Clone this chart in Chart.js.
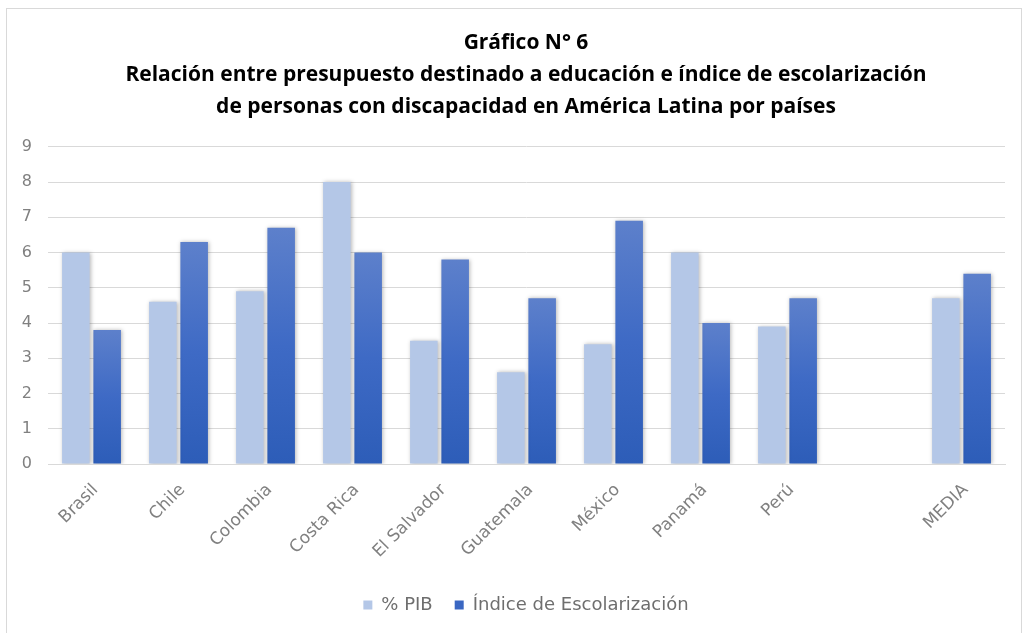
<!DOCTYPE html>
<html>
<head>
<meta charset="utf-8">
<script src="https://cdn.jsdelivr.net/npm/chart.js@4"></script>
<style>
  html, body { margin: 0; padding: 0; background: #fff; }
  #wrap { position: relative; width: 1036px; height: 633px; }
  #frame { position: absolute; left: 6px; top: 8px; width: 1016px; height: 640px; border: 1px solid #d9d9d9; box-sizing: border-box; }
  canvas { position: absolute; left: 0; top: 0; }
</style>
</head>
<body>
<div id="wrap">
  <div id="frame"></div>
  <canvas id="chart" width="1036" height="633"></canvas>
</div>
<script>
// Data
const countries = ['Brasil', 'Chile', 'Colombia', 'Costa Rica', 'El Salvador', 'Guatemala', 'México', 'Panamá', 'Perú', '', 'MEDIA'];
const pibValues = [6.0, 4.6, 4.9, 8.0, 3.5, 2.6, 3.4, 6.0, 3.9, null, 4.7];
const escolarizacionValues = [3.8, 6.3, 6.7, 6.0, 5.8, 4.7, 6.9, 4.0, 4.7, null, 5.4];
const titleLines = [
    'Gráfico N° 6',
    'Relación entre presupuesto destinado a educación e índice de escolarización',
    'de personas con discapacidad en América Latina por países'
];

const tickFont = { family: 'DejaVu Sans', size: 17 };
const tickColor = '#808080';

// gradient per bar, lighter at the top
function darkGradient(ctx) {
    const chart = ctx.chart;
    if (!chart.chartArea || ctx.raw == null) return '#3a67c2';
    const y = chart.scales.y;
    const top = y.getPixelForValue(ctx.raw);
    const bottom = y.getPixelForValue(0);
    const g = chart.ctx.createLinearGradient(0, top, 0, bottom);
    g.addColorStop(0, '#5d80cb');
    g.addColorStop(0.5, '#3e6ac5');
    g.addColorStop(1, '#2d5db8');
    return g;
}

// soft shadow behind the bars
const barShadow = {
    id: 'barShadow',
    beforeDatasetsDraw(chart) {
        const c = chart.ctx;
        c.save();
        c.shadowColor = 'rgba(0,0,0,0.28)';
        c.shadowBlur = 4;
        c.shadowOffsetX = 1;
        c.shadowOffsetY = 0;
    },
    afterDatasetsDraw(chart) {
        chart.ctx.restore();
    }
};

new Chart(document.getElementById('chart'), {
    type: 'bar',
    data: {
        labels: countries,
        datasets: [{
            label: '% PIB',
            data: pibValues,
            backgroundColor: '#b4c7e7',
            categoryPercentage: 0.72,
            barPercentage: 0.88
        }, {
            label: 'Índice de Escolarización',
            data: escolarizacionValues,
            backgroundColor: darkGradient,
            categoryPercentage: 0.72,
            barPercentage: 0.88
        }]
    },
    options: {
        responsive: false,
        animation: false,
        // title and legend are centred on the frame, a bit right of the canvas centre
        layout: { padding: { left: 16, right: 0, top: 0, bottom: 9 } },
        plugins: {
            title: {
                display: true,
                text: titleLines,
                color: '#000',
                font: { family: 'Open Sans', size: 21, weight: 'bold', lineHeight: 1.52 },
                padding: { top: 27, bottom: 24 }
            },
            legend: {
                position: 'bottom',
                labels: {
                    color: '#6e6e6e',
                    font: { family: 'DejaVu Sans', size: 18 },
                    boxWidth: 9,
                    boxHeight: 9,
                    padding: 22,
                    generateLabels(chart) {
                        const items = Chart.defaults.plugins.legend.labels.generateLabels(chart);
                        items[1].fillStyle = '#3a67c2';
                        items.forEach(i => { i.lineWidth = 0; });
                        return items;
                    }
                }
            },
            tooltip: { enabled: false }
        },
        scales: {
            x: {
                grid: { display: false },
                border: { color: '#d9d9d9' },
                ticks: {
                    color: tickColor,
                    font: tickFont,
                    maxRotation: 45,
                    minRotation: 45,
                    autoSkip: false,
                    padding: 8,
                    labelOffset: 4
                },
                afterFit(s) { s.height = 110; }
            },
            y: {
                min: 0,
                max: 9,
                ticks: { stepSize: 1, color: tickColor, font: { family: 'DejaVu Sans', size: 16 }, padding: 16 },
                grid: { color: '#d9d9d9', drawTicks: false },
                border: { display: false },
                afterFit(s) { s.width = 32; }
            },
            // empty spacer on the right
            spacer: {
                type: 'linear',
                position: 'right',
                grid: { display: false },
                ticks: { display: false },
                border: { display: false },
                afterFit(s) { s.width = 31; }
            }
        }
    },
    plugins: [barShadow]
});
</script>
</body>
</html>
